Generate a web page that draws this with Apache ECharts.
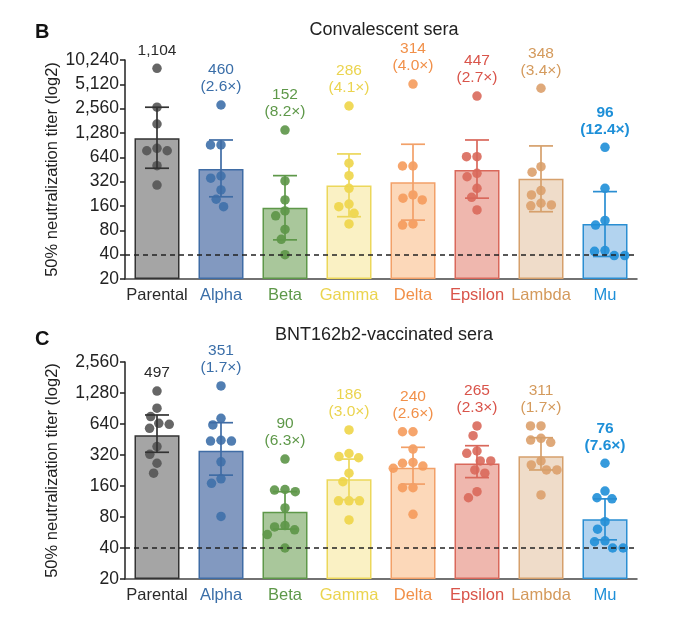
<!DOCTYPE html>
<html>
<head>
<meta charset="utf-8">
<script src="https://cdn.jsdelivr.net/npm/echarts@6/dist/echarts.min.js"></script>
<style>
  html, body { margin: 0; background: #fff; }
  #chart { width: 700px; height: 631px; }
</style>
</head>
<body>
<div id="chart"></div>
<script>
// variants and summary values
const variants = ['Parental', 'Alpha', 'Beta', 'Gamma', 'Delta', 'Epsilon', 'Lambda', 'Mu'];

// B - convalescent sera
const convMean = [1104, 460, 152, 286, 314, 447, 348, 96];
const convFold = [null, '2.6', '8.2', '4.1', '4.0', '2.7', '3.4', '12.4'];
const convLow = [469, 208, 61, 118, 107, 200, 136, 38];
const convHigh = [2667, 1049, 380, 705, 929, 1049, 886, 241];
const convPoints = [
  [8090, 2667, 1654, 827, 772, 772, 505, 290],
  [2842, 911, 911, 376, 353, 253, 194, 157],
  [1393, 327, 190, 139, 121, 82, 62, 40],
  [2763, 541, 380, 265, 169, 157, 130, 96],
  [5160, 500, 500, 200, 190, 219, 93, 96],
  [3670, 652, 652, 368, 406, 265, 205, 143],
  [4580, 491, 419, 248, 219, 173, 161, 165],
  [851, 265, 106, 93, 45, 44, 39, 39]
];

// C - BNT162b2-vaccinated sera
const vaxMean = [497, 351, 90, 186, 240, 265, 311, 76];
const vaxFold = [null, '1.7', '6.3', '3.0', '2.6', '2.3', '1.7', '7.6'];
const vaxLow = [340, 204, 61, 118, 167, 193, 229, 48];
const vaxHigh = [783, 659, 141, 292, 380, 394, 471, 120];
const vaxPoints = [
  [1335, 911, 755, 650, 636, 581, 386, 325, 266, 213],
  [1500, 727, 627, 437, 437, 445, 275, 188, 170, 81],
  [292, 146, 148, 141, 98, 66, 64, 60, 54, 40],
  [561, 331, 301, 309, 213, 176, 115, 115, 115, 75],
  [538, 538, 365, 271, 266, 250, 238, 154, 154, 85],
  [613, 493, 332, 350, 280, 280, 229, 213, 141, 123],
  [613, 613, 465, 447, 425, 280, 256, 229, 229, 131],
  [266, 143, 123, 120, 72, 61, 46, 47, 40, 40]
];

const detectionLimit = 40;

// colours
const fillColors = ['#a5a5a5', '#8299c0', '#a9c79b', '#faf1c4', '#fcd8b9', '#efb7ae', '#efdcc9', '#b2d3ef'];
const lineColors = ['#333333', '#3f6ca5', '#5e9849', '#ecd75a', '#f2a068', '#d9685b', '#d6a06c', '#2a8ed2'];
const dotColors = ['#555555', '#3e70aa', '#5c9547', '#eed548', '#f59b5c', '#d9695b', '#dba06b', '#1f8fd8'];
const textColors = ['#2a2a2a', '#3a6ea8', '#5e9849', '#ebd44f', '#f19049', '#d9544a', '#d49a5c', '#1d8fd8'];

const FONT = '"Liberation Sans", Arial, Helvetica, sans-serif';
const base = 20;
const toAxis = v => Math.log2(v / base);

// simple beeswarm: offsets in px so dots do not overlap
function swarm(vals, pxPerUnit, D) {
  const order = vals.map((v, i) => i).sort((a, b) => vals[b] - vals[a]);
  const placed = [];
  const off = new Array(vals.length).fill(0);
  order.forEach(i => {
    const y = toAxis(vals[i]) * pxPerUnit;
    const bans = [];
    placed.forEach(p => {
      const dy = Math.abs(p.y - y);
      if (dy < D) {
        const w = Math.sqrt(D * D - dy * dy);
        bans.push([p.x - w, p.x + w]);
      }
    });
    const cands = [0];
    bans.forEach(b => cands.push(b[0], b[1]));
    cands.sort((a, b) => Math.abs(a) - Math.abs(b) || a - b);
    let x = 0;
    for (const c of cands) {
      if (!bans.some(b => c > b[0] + 0.01 && c < b[1] - 0.01)) { x = c; break; }
    }
    off[i] = x;
    placed.push({ x: x, y: y });
  });
  return off;
}

function panelSeries(idx, means, folds, low, high, points, pxPerUnit) {
  const bar = {
    type: 'bar',
    xAxisIndex: idx, yAxisIndex: idx,
    barWidth: 45,
    z: 1,
    data: means.map((v, i) => ({
      value: toAxis(v),
      itemStyle: { color: fillColors[i], borderColor: lineColors[i], borderWidth: 1.5 }
    })),
    markLine: {
      silent: true,
      symbol: 'none',
      label: { show: false },
      lineStyle: { color: '#222', type: [5, 4], width: 1.5 },
      data: [{ yAxis: toAxis(detectionLimit) }]
    }
  };

  const dots = [];
  points.forEach((vals, i) => {
    const off = swarm(vals, pxPerUnit, 10.5);
    vals.forEach((v, k) => {
      dots.push({
        value: [i, toAxis(v)],
        symbolOffset: [off[k], 0],
        itemStyle: { color: dotColors[i], opacity: 0.9 }
      });
    });
  });
  const scatter = {
    type: 'scatter',
    xAxisIndex: idx, yAxisIndex: idx,
    symbolSize: 9.5,
    z: 3,
    data: dots
  };

  const err = {
    type: 'custom',
    xAxisIndex: idx, yAxisIndex: idx,
    z: 4,
    data: low.map((l, i) => [i, toAxis(l), toAxis(high[i])]),
    renderItem: (params, api) => {
      const i = api.value(0);
      const lo = api.coord([i, api.value(1)]);
      const hi = api.coord([i, api.value(2)]);
      const hw = 12;
      const st = { stroke: lineColors[i], lineWidth: 1.7 };
      return {
        type: 'group',
        children: [
          { type: 'line', shape: { x1: lo[0], y1: lo[1], x2: hi[0], y2: hi[1] }, style: st },
          { type: 'line', shape: { x1: lo[0] - hw, y1: lo[1], x2: lo[0] + hw, y2: lo[1] }, style: st },
          { type: 'line', shape: { x1: hi[0] - hw, y1: hi[1], x2: hi[0] + hw, y2: hi[1] }, style: st }
        ]
      };
    }
  };

  const labels = {
    type: 'scatter',
    xAxisIndex: idx, yAxisIndex: idx,
    symbolSize: 9,
    itemStyle: { color: 'rgba(0,0,0,0)', opacity: 1 },
    silent: true,
    z: 5,
    data: points.map((vals, i) => ({
      value: [i, toAxis(Math.max.apply(null, vals))],
      label: {
        show: true,
        position: 'top',
        distance: 5,
        fontFamily: FONT,
        fontSize: 15.5,
        lineHeight: 17,
        color: textColors[i],
        opacity: 1,
        fontWeight: i === 7 ? 'bold' : 'normal',
        formatter: () => means[i].toLocaleString('en-US') + (folds[i] ? '\n(' + folds[i] + '×)' : '')
      }
    }))
  };

  return [bar, err, scatter, labels];
}

function yAxis(idx, max) {
  return {
    type: 'value',
    gridIndex: idx,
    min: 0, max: max, interval: 1,
    name: '50% neutralization titer (log2)',
    nameLocation: 'middle',
    nameGap: 64,
    nameMoveOverlap: false,
    nameTextStyle: { fontFamily: FONT, fontSize: 16.5, color: '#222' },
    axisLine: { show: true, lineStyle: { color: '#222', width: 1.5 } },
    axisTick: { show: true, length: 5, lineStyle: { color: '#222', width: 1.5 } },
    splitLine: { show: false },
    axisLabel: {
      fontFamily: FONT, fontSize: 17.5, color: '#222', margin: 6,
      formatter: v => (base * Math.pow(2, v)).toLocaleString('en-US')
    }
  };
}

function xAxis(idx) {
  return {
    type: 'category',
    gridIndex: idx,
    data: variants,
    axisLine: { lineStyle: { color: '#444', width: 1.5 } },
    axisTick: { alignWithLabel: true, length: 5, lineStyle: { color: '#444', width: 1.5 } },
    axisLabel: {
      fontFamily: FONT, fontSize: 16.5, margin: 8, interval: 0,
      color: (val, i) => textColors[i]
    }
  };
}

const chart = echarts.init(document.getElementById('chart'), null, { renderer: 'canvas' });
const option = {
  backgroundColor: '#fff',
  animation: false,
  grid: [
    { left: 125, right: 63, top: 60, bottom: 352 },
    { left: 125, right: 63, top: 362, bottom: 52 }
  ],
  xAxis: [xAxis(0), xAxis(1)],
  yAxis: [yAxis(0, 9), yAxis(1, 7)],
  graphic: [
    { type: 'text', left: 35, top: 22, style: { text: 'B', font: 'bold 20px ' + FONT, fill: '#111' } },
    { type: 'text', left: 35, top: 329, style: { text: 'C', font: 'bold 20px ' + FONT, fill: '#111' } },
    { type: 'text', x: 384, y: 30, style: { text: 'Convalescent sera', font: '18px ' + FONT, fill: '#222', align: 'center', verticalAlign: 'middle' } },
    { type: 'text', x: 384, y: 335, style: { text: 'BNT162b2-vaccinated sera', font: '18px ' + FONT, fill: '#222', align: 'center', verticalAlign: 'middle' } }
  ],
  series: [].concat(
    panelSeries(0, convMean, convFold, convLow, convHigh, convPoints, 219 / 9),
    panelSeries(1, vaxMean, vaxFold, vaxLow, vaxHigh, vaxPoints, 217 / 7)
  )
};
chart.setOption(option);
window.addEventListener('resize', () => chart.resize());
</script>
</body>
</html>
